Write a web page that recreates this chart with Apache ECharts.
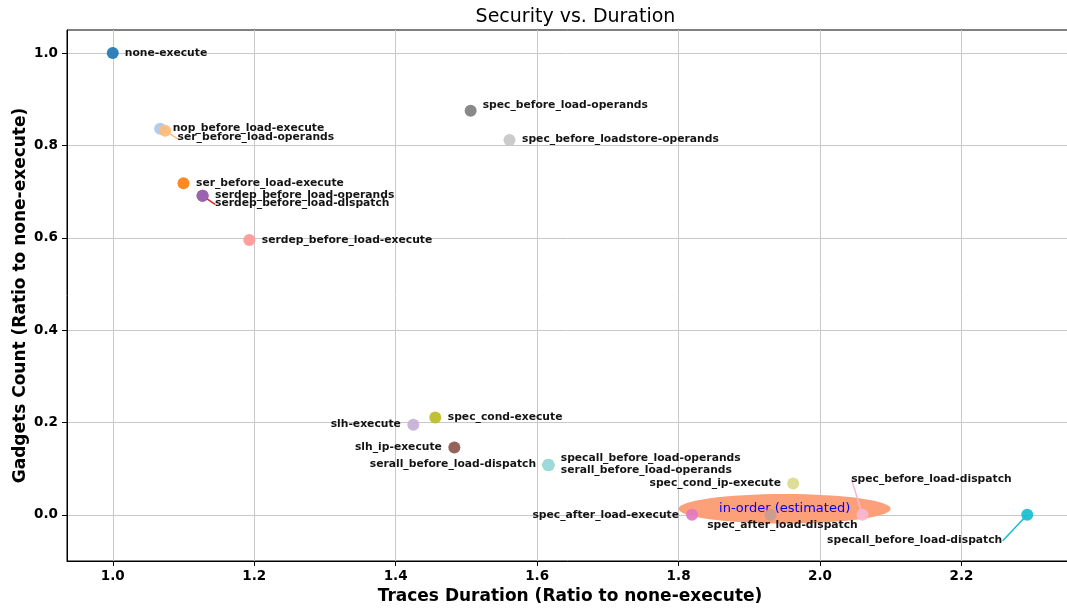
<!DOCTYPE html>
<html>
<head>
<meta charset="utf-8">
<script src="https://cdn.jsdelivr.net/npm/echarts@6/dist/echarts.min.js"></script>
<style>
  html, body { margin: 0; padding: 0; background: #fff; }
  #chart { width: 1067px; height: 608px; }
</style>
</head>
<body>
<div id="chart"></div>
<script>
// Mitigation variants, in plotting order
const variants = [
  'none-execute', 'nop_before_load-execute', 'ser_before_load-execute', 'ser_before_load-operands',
  'serall_before_load-dispatch', 'serall_before_load-operands', 'serdep_before_load-dispatch',
  'serdep_before_load-execute', 'serdep_before_load-operands', 'slh-execute', 'slh_ip-execute',
  'spec_after_load-dispatch', 'spec_after_load-execute', 'spec_before_load-dispatch',
  'spec_before_load-operands', 'spec_before_loadstore-operands', 'spec_cond-execute',
  'spec_cond_ip-execute', 'specall_before_load-dispatch', 'specall_before_load-operands'
];
// Traces duration, ratio to none-execute
const durationRatio = [
  1.000, 1.067, 1.100, 1.074,
  1.616, 1.616, 1.127,
  1.193, 1.127, 1.425, 1.483,
  1.930, 1.819, 2.060,
  1.506, 1.561, 1.456,
  1.962, 2.293, 1.616
];
// Gadget count, ratio to none-execute
const gadgetRatio = [
  1.000, 0.836, 0.718, 0.832,
  0.108, 0.108, 0.691,
  0.595, 0.691, 0.195, 0.146,
  0.000, 0.000, 0.000,
  0.875, 0.812, 0.211,
  0.068, 0.000, 0.108
];
// Estimated in-order region: centre and extent in axis units
const inOrderLabel = 'in-order (estimated)';
const inOrderCenter = [1.950, 0.013];
const inOrderSize = [0.300, 0.064];

const xTicks = [1.0, 1.2, 1.4, 1.6, 1.8, 2.0, 2.2];
const yTicks = [0.0, 0.2, 0.4, 0.6, 0.8, 1.0];

// tab20 palette, one colour per variant
const palette = [
  '#1f77b4', '#aec7e8', '#ff7f0e', '#ffbb78', '#2ca02c', '#98df8a', '#d62728', '#ff9896',
  '#9467bd', '#c5b0d5', '#8c564b', '#c49c94', '#e377c2', '#f7b6d2', '#7f7f7f', '#c7c7c7',
  '#bcbd22', '#dbdb8d', '#17becf', '#9edae5'
];

// Label placement (pixel offsets from the marker centre) and optional leader line end
const labelPlacement = {
  'none-execute':                   { dx: 12, dy: 0, align: 'left' },
  'nop_before_load-execute':        { dx: 12.5, dy: -0.5, align: 'left' },
  'ser_before_load-operands':       { dx: 12.5, dy: 7, align: 'left', lead: [13, 8.5] },
  'ser_before_load-execute':        { dx: 12.5, dy: 0, align: 'left' },
  'serdep_before_load-operands':    { dx: 12.5, dy: -0.8, align: 'left' },
  'serdep_before_load-dispatch':    { dx: 12.5, dy: 7, align: 'left', lead: [12.6, 8.7] },
  'serdep_before_load-execute':     { dx: 12.5, dy: 0, align: 'left' },
  'spec_before_load-operands':      { dx: 12, dy: -6, align: 'left' },
  'spec_before_loadstore-operands': { dx: 12.5, dy: -0.7, align: 'left' },
  'spec_cond-execute':              { dx: 12.5, dy: -0.6, align: 'left' },
  'slh-execute':                    { dx: -12.5, dy: -0.7, align: 'right' },
  'slh_ip-execute':                 { dx: -12.5, dy: -0.6, align: 'right' },
  'serall_before_load-dispatch':    { dx: -12.3, dy: -1, align: 'right' },
  'specall_before_load-operands':   { dx: 12.3, dy: -6.3, align: 'left' },
  'serall_before_load-operands':    { dx: 12.3, dy: 5.7, align: 'left' },
  'spec_cond_ip-execute':           { dx: -12.2, dy: 0, align: 'right' },
  'spec_after_load-execute':        { dx: -13, dy: 0, align: 'right' },
  'spec_after_load-dispatch':       { dx: -63.3, dy: 10.7, align: 'left' },
  'spec_before_load-dispatch':      { dx: -11.3, dy: -36, align: 'left', lead: [-11, -35.5] },
  'specall_before_load-dispatch':   { dx: -25, dy: 25, align: 'right', lead: [-24.5, 26] }
};

const FONT = '"DejaVu Sans", "Liberation Sans", sans-serif';

const points = variants.map((name, i) => {
  const p = labelPlacement[name];
  return {
    name: name,
    value: [durationRatio[i], gadgetRatio[i]],
    itemStyle: { color: palette[i], opacity: 0.92 },
    label: {
      show: true,
      formatter: name,
      position: 'inside',
      align: p.align,
      verticalAlign: 'middle',
      offset: [p.dx, p.dy]
    }
  };
});

const leaderData = variants
  .map((name, i) => ({ i, name }))
  .filter(d => labelPlacement[d.name].lead)
  .map(d => ({ value: [durationRatio[d.i], gadgetRatio[d.i]], lead: labelPlacement[d.name].lead, color: palette[d.i] }));

const isTick = (v, ticks) => ticks.some(t => Math.abs(t - v) < 1e-6);

const chart = echarts.init(document.getElementById('chart'), null, { renderer: 'canvas' });

chart.setOption({
  animation: false,
  backgroundColor: '#fff',
  title: {
    text: 'Security vs. Duration',
    left: 570.5,
    textAlign: 'center',
    top: 3,
    textStyle: { fontFamily: FONT, fontSize: 19, fontWeight: 'normal', color: '#000' }
  },
  grid: {
    left: 67, top: 30, width: 1006, height: 531,
    containLabel: false,
    outerBoundsMode: 'none',
    show: true, borderColor: '#000', borderWidth: 1, backgroundColor: 'transparent'
  },
  xAxis: {
    type: 'value',
    min: 0.9353, max: 2.3577,
    splitNumber: 7,
    name: 'Traces Duration (Ratio to none-execute)',
    nameLocation: 'middle',
    nameGap: 26,
    nameTextStyle: { fontFamily: FONT, fontSize: 17, fontWeight: 'bold', color: '#000' },
    axisLine: { show: true, onZero: false, lineStyle: { color: '#000', width: 1 } },
    axisTick: { show: true, length: 5, customValues: xTicks, lineStyle: { color: '#000' } },
    axisLabel: {
      fontFamily: FONT, fontSize: 13.5, fontWeight: 'bold', color: '#000', margin: 8,
      customValues: xTicks,
      formatter: v => isTick(v, xTicks) ? v.toFixed(1) : ''
    },
    splitLine: { show: true, lineStyle: { color: '#c8c8c8', width: 1 } }
  },
  yAxis: {
    type: 'value',
    min: -0.1, max: 1.05,
    splitNumber: 6,
    name: 'Gadgets Count (Ratio to none-execute)',
    nameLocation: 'middle',
    nameGap: 38,
    nameMoveOverlap: false,
    nameTextStyle: { fontFamily: FONT, fontSize: 17, fontWeight: 'bold', color: '#000' },
    axisLine: { show: true, onZero: false, lineStyle: { color: '#000', width: 1 } },
    axisTick: { show: true, length: 5, customValues: yTicks, lineStyle: { color: '#000' } },
    axisLabel: {
      fontFamily: FONT, fontSize: 13.5, fontWeight: 'bold', color: '#000', margin: 9,
      customValues: yTicks,
      formatter: v => isTick(v, yTicks) ? v.toFixed(1) : ''
    },
    splitLine: { show: true, lineStyle: { color: '#c8c8c8', width: 1 } }
  },
  series: [
    {
      // shaded in-order region with its caption
      type: 'custom',
      z: 1,
      silent: true,
      data: [[inOrderCenter[0], inOrderCenter[1], inOrderSize[0], inOrderSize[1]]],
      renderItem: (params, api) => {
        const c = api.coord([api.value(0), api.value(1)]);
        const s = api.size([api.value(2), api.value(3)]);
        return {
          type: 'group',
          children: [
            { type: 'ellipse', shape: { cx: c[0], cy: c[1], rx: s[0] / 2, ry: s[1] / 2 },
              style: { fill: '#fca07a' } },
            { type: 'text', z2: 50,
              style: { x: c[0], y: c[1], text: inOrderLabel, fill: '#0000ff',
                       font: '13px ' + FONT, align: 'center', verticalAlign: 'middle' } }
          ]
        };
      }
    },
    {
      // leader lines from markers to displaced labels
      type: 'custom',
      z: 2,
      silent: true,
      data: leaderData.map(d => d.value),
      renderItem: (params, api) => {
        const d = leaderData[params.dataIndex];
        const c = api.coord([api.value(0), api.value(1)]);
        return {
          type: 'line',
          shape: { x1: c[0], y1: c[1], x2: c[0] + d.lead[0], y2: c[1] + d.lead[1] },
          style: { stroke: d.color, lineWidth: 1.5 }
        };
      }
    },
    {
      type: 'scatter',
      z: 3,
      symbol: 'circle',
      symbolSize: 12,
      data: points,
      label: {
        fontFamily: FONT, fontSize: 10.75, fontWeight: 'bold', color: '#000'
      },
      emphasis: { disabled: true }
    }
  ]
});
</script>
</body>
</html>
